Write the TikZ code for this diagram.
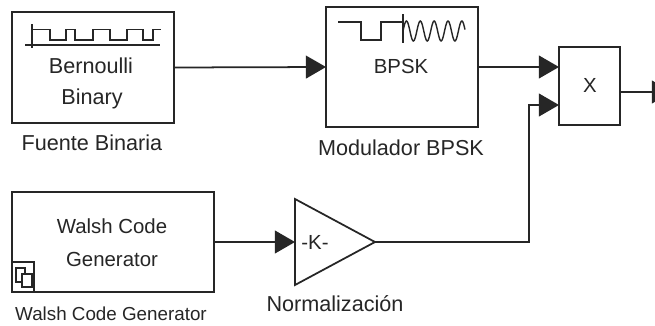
\documentclass[tikz,border=0pt]{standalone}
\usepackage{fontspec}
\setmainfont{Liberation Sans}
\usetikzlibrary{arrows.meta}

\begin{document}
\begin{tikzpicture}[x=0.02cm, y=0.02cm]
	\tikzstyle{every node}+=[inner sep=0pt, outer sep=0pt, font=\fontsize{11.6}{13}\selectfont, text=black!85]
	\tikzstyle{wide}=[font=\fontsize{12.3}{13}\selectfont]
	\tikzstyle{narrow}=[font=\fontsize{10.7}{13}\selectfont]
	\tikzstyle{block}=[draw=black!85, line width=1pt, rectangle, fill=white]
	\tikzstyle{wire}=[draw=black!85, line width=1pt, -{Triangle[length=11.5pt,width=13pt]}]
	\tikzstyle{icon}=[draw=black!85, line width=0.8pt]
	\clip (0,0) rectangle (655,-325);
	\fill [white] (0,0) rectangle (655,-325);
	\node [block, minimum width=3.24cm, minimum height=2.22cm] (bernoulli) at (93,-67.5) {};
	\node [block, minimum width=3.04cm, minimum height=2.40cm] (bpsk) at (402,-67) {};
	\node [block, minimum width=1.22cm, minimum height=1.56cm] (product) at (589.5,-86) {};
	\node [block, minimum width=4.04cm, minimum height=2.00cm] (walsh) at (113,-242) {};
	\node [wide] (bernoullitext) at (91,-66) {Bernoulli};
	\node [wide] (binarytext) at (92,-99) {Binary};
	\node (bpsktext) at (401,-66) {BPSK};
	\node (producttext) at (590,-85) {X};
	\node (walshtext) at (112,-226) {Walsh Code};
	\node (generatortext) at (112,-259) {Generator};
	\node (gaintext) at (315,-242) {-K-};
	\node [wide] (fuente) at (92,-143) {Fuente Binaria};
	\node [wide] (modulador) at (401,-148) {Modulador BPSK};
	\node [narrow] (walshname) at (111,-314) {Walsh Code Generator};
	\node [wide] (normal) at (335,-304) {Normalización};
	\coordinate (gainin) at (295,-242);
	\coordinate (gainout) at (375,-242);
	\coordinate (prodina) at (559,-67);
	\coordinate (prodinb) at (559,-105);
	\coordinate (prodout) at (620,-92);
	\coordinate (output) at (672,-92);
	\draw [icon, line width=1pt] (295,-199) -- (gainout) -- (295,-285) -- cycle;
	\draw [wire] (bernoulli.east) -- (bpsk.west);
	\draw [wire] (bpsk.east) -- (prodina);
	\draw [wire] (walsh.east) -- (gainin);
	\draw [wire] (gainout) -| (529,-105) -- (prodinb);
	\draw [wire] (prodout) -- (output);
	\draw [icon] (25,-45) -- (160,-45);
	\draw [icon] (32,-24) -- (32,-48);
	\draw [icon] (32,-29.5) -- (50,-29.5) -- (50,-40) -- (66,-40) -- (66,-29.5) -- (75,-29.5) -- (75,-40) -- (93,-40) -- (93,-29.5) -- (110,-29.5) -- (110,-40) -- (127,-40) -- (127,-29.5) -- (143,-29.5) -- (143,-40) -- (153,-40) -- (153,-29.5) -- (161,-29.5);
	\draw [icon] (338,-22) -- (361,-22) -- (361,-40) -- (381,-40) -- (381,-22) -- (403,-22);
	\draw [icon] (403,-14) -- (403,-43);
	\draw [icon] plot [domain=0:62, samples=90, smooth] ({403+\x}, {-31+10*sin(\x*26)});
	\draw [block] (12,-262) rectangle (34,-292);
	\draw [icon] (16,-268) rectangle (25,-282);
	\draw [icon, fill=white] (22,-274) rectangle (32,-287);
\end{tikzpicture}
\end{document}
